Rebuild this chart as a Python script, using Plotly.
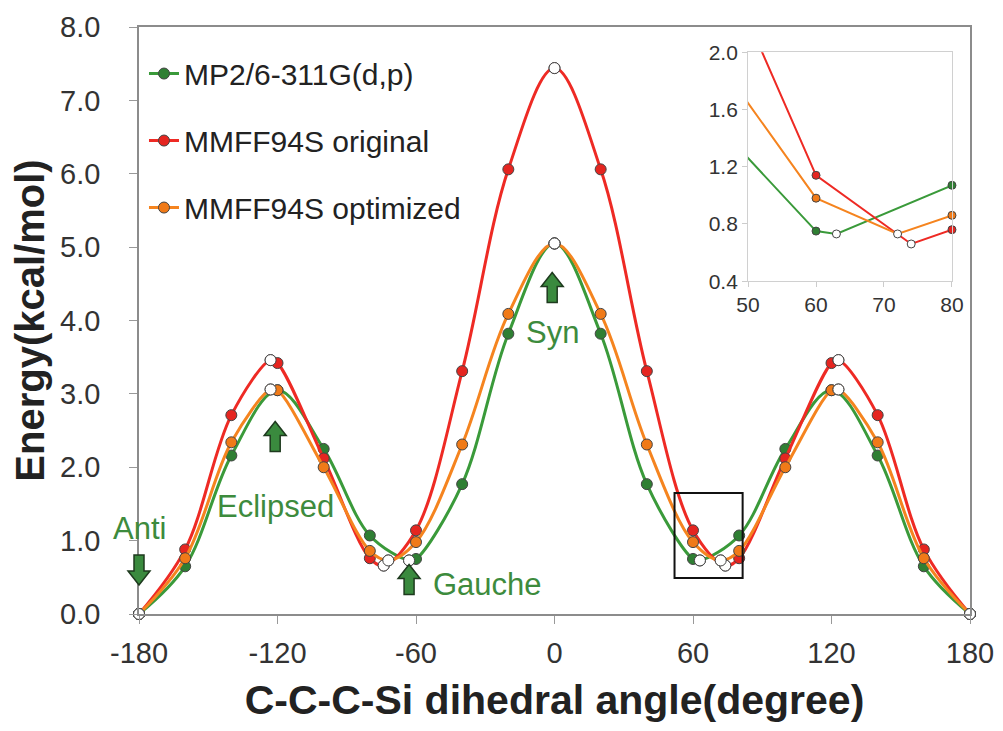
import plotly.graph_objects as go

# dihedral scan every 20 degrees
angles = [-180, -160, -140, -120, -100, -80, -60, -40, -20, 0, 20, 40, 60, 80, 100, 120, 140, 160, 180]
mp2 = [0.0, 0.65, 2.16, 3.05, 2.25, 1.07, 0.75, 1.77, 3.82, 5.05, 3.82, 1.77, 0.75, 1.07, 2.25, 3.05, 2.16, 0.65, 0.0]
mmff_orig = [0.0, 0.88, 2.71, 3.42, 2.12, 0.76, 1.14, 3.31, 6.06, 7.44, 6.06, 3.31, 1.14, 0.76, 2.12, 3.42, 2.71, 0.88, 0.0]
mmff_opt = [0.0, 0.76, 2.34, 3.05, 2.00, 0.86, 0.98, 2.31, 4.09, 5.05, 4.09, 2.31, 0.98, 0.86, 2.00, 3.05, 2.34, 0.76, 0.0]

# stationary points (open circles)
mp2_stat_x = [-180, -63, 0, 63, 180]
mp2_stat_y = [0.0, 0.73, 5.05, 0.73, 0.0]
orig_stat_x = [-180, -123, -74, 0, 74, 123, 180]
orig_stat_y = [0.0, 3.46, 0.66, 7.44, 0.66, 3.46, 0.0]
opt_stat_x = [-180, -123, -72, 0, 72, 123, 180]
opt_stat_y = [0.0, 3.06, 0.73, 5.05, 0.73, 3.06, 0.0]

x_ticks = [-180, -120, -60, 0, 60, 120, 180]
x_ticktext = ['-180', '-120', '-60', '0', '60', '120', '180']

names = ['MP2/6-311G(d,p)', 'MMFF94S original', 'MMFF94S optimized']
line_colors = ['#3a9a3a', '#ee2a24', '#f5841f']
marker_colors = ['#2f7f33', '#e52520', '#f07a18']

conf_labels = ['Anti', 'Eclipsed', 'Gauche', 'Syn']
label_x = [-180, -121, -29, -1]
label_y = [1.17, 1.46, 0.40, 3.83]
arrow_x = [-180, -121, -63, -1]
arrow_y = [0.6, 2.42, 0.47, 4.45]
arrow_dir = [-1, 1, 1, 1]

XR = [-180, 180]
YR = [0, 8]
FONT = 'Liberation Sans, Arial, sans-serif'
TXT_GREEN = '#3d8b3d'


def merge(xs, ys, sx, sy):
    pts = dict(zip(xs, ys))
    pts.update(dict(zip(sx, sy)))
    keys = sorted(pts)
    return keys, [pts[k] for k in keys]


series = [(mp2, mp2_stat_x, mp2_stat_y),
          (mmff_orig, orig_stat_x, orig_stat_y),
          (mmff_opt, opt_stat_x, opt_stat_y)]

fig = go.Figure()

# main curves
for i, (vals, sx, sy) in enumerate(series):
    mx, my = merge(angles, vals, sx, sy)
    fig.add_trace(go.Scatter(
        x=mx, y=my, mode='lines+markers', name=names[i], legendgroup=names[i],
        line=dict(color=line_colors[i], width=3, shape='spline', smoothing=1),
        marker=dict(size=11, color=marker_colors[i], line=dict(color='#444', width=1)),
        cliponaxis=False))
for i, (vals, sx, sy) in enumerate(series):
    fig.add_trace(go.Scatter(
        x=sx, y=sy, mode='markers', showlegend=False,
        marker=dict(size=11, color='white', line=dict(color='#444', width=1)),
        cliponaxis=False))

# inset: straight segments, zoomed on the right gauche minimum
for i, (vals, sx, sy) in enumerate(series):
    mx, my = merge(angles, vals, sx, sy)
    fig.add_trace(go.Scatter(
        x=mx, y=my, mode='lines', showlegend=False, xaxis='x2', yaxis='y2',
        line=dict(color=line_colors[i], width=2)))
for i, (vals, sx, sy) in enumerate(series):
    gx = [a for a in angles if 50 <= a <= 80]
    gy = [v for a, v in zip(angles, vals) if 50 <= a <= 80]
    fig.add_trace(go.Scatter(
        x=gx, y=gy, mode='markers', showlegend=False, xaxis='x2', yaxis='y2',
        marker=dict(size=8, color=marker_colors[i], line=dict(color='#444', width=1)),
        cliponaxis=False))
    wx = [a for a in sx if 50 <= a <= 80]
    wy = [v for a, v in zip(sx, sy) if 50 <= a <= 80]
    fig.add_trace(go.Scatter(
        x=wx, y=wy, mode='markers', showlegend=False, xaxis='x2', yaxis='y2',
        marker=dict(size=8, color='white', line=dict(color='#444', width=1)),
        cliponaxis=False))

# conformer labels and block arrows
for t, lx, ly in zip(conf_labels, label_x, label_y):
    fig.add_annotation(x=lx, y=ly, text=t, showarrow=False,
                       font=dict(family=FONT, size=31, color=TXT_GREEN))

for ax_, ay_, d in zip(arrow_x, arrow_y, arrow_dir):
    pts = [(0, 15), (11, 1), (5, 1), (5, -15), (-5, -15), (-5, 1), (-11, 1)]
    path = 'M ' + ' L '.join(f'{px},{py * d}' for px, py in pts) + ' Z'
    # paper refs so the arrow sitting on the axis is not clipped
    fig.add_shape(type='path', xref='paper', yref='paper',
                  xsizemode='pixel', ysizemode='pixel',
                  xanchor=(ax_ - XR[0]) / (XR[1] - XR[0]),
                  yanchor=(ay_ - YR[0]) / (YR[1] - YR[0]), path=path,
                  fillcolor='#3a8a3e', line=dict(color='#1e3a1e', width=1.5))

# box marking the inset region
fig.add_shape(type='rect', xref='x', yref='y', x0=52, x1=81.5, y0=0.49, y1=1.65,
              line=dict(color='#111', width=2))

# page body has an 8px margin: keep the whole figure inside the window
fig.update_layout(
    width=987, height=715,
    margin=dict(l=131, r=25, t=19, b=109, autoexpand=False),
    paper_bgcolor='white', plot_bgcolor='white',
    font=dict(family=FONT, color='#333'),
    showlegend=True,
    legend=dict(x=0.006, y=0.965, xanchor='left', yanchor='top',
                font=dict(family=FONT, size=30, color='#222'),
                bgcolor='rgba(0,0,0,0)', tracegroupgap=25, itemwidth=30),
    xaxis=dict(range=XR, tickvals=x_ticks, ticktext=x_ticktext, automargin=False,
               ticks='outside', ticklen=8, tickcolor='#999', showline=True,
               linecolor='#8c8c8c', linewidth=1.5, mirror=True, showgrid=False,
               zeroline=False, tickfont=dict(size=29, color='#333'), ticklabelstandoff=4,
               ticklabeloverflow='allow',
               title=dict(text='<b>C-C-C-Si dihedral angle(degree)</b>',
                          font=dict(size=41, color='#222'), standoff=26)),
    yaxis=dict(range=YR, dtick=1, tickformat='.1f', automargin=False,
               ticks='outside', ticklen=8, tickcolor='#999', showline=True,
               linecolor='#8c8c8c', linewidth=1.5, mirror=True, showgrid=False,
               zeroline=False, tickfont=dict(size=29, color='#333'), ticklabelstandoff=23,
               title=dict(text='<b>Energy(kcal/mol)</b>',
                          font=dict(size=40, color='#222'), standoff=7)),
    xaxis2=dict(domain=[0.7329, 0.9783], anchor='y2', range=[50, 80], automargin=False,
                tickvals=[50, 60, 70, 80], ticks='outside', ticklen=5,
                tickcolor='#ccc', showline=True, linecolor='#d0d0d0', mirror=True,
                showgrid=False, zeroline=False, tickfont=dict(size=21, color='#333')),
    yaxis2=dict(domain=[0.567, 0.957], anchor='x2', range=[0.4, 2.0], automargin=False,
                tickvals=[0.4, 0.8, 1.2, 1.6, 2.0], tickformat='.1f', ticks='outside',
                ticklen=5, tickcolor='#ccc', showline=True, linecolor='#d0d0d0',
                mirror=True, showgrid=False, zeroline=False,
                tickfont=dict(size=21, color='#333')),
)

fig.write_html('out.html')
